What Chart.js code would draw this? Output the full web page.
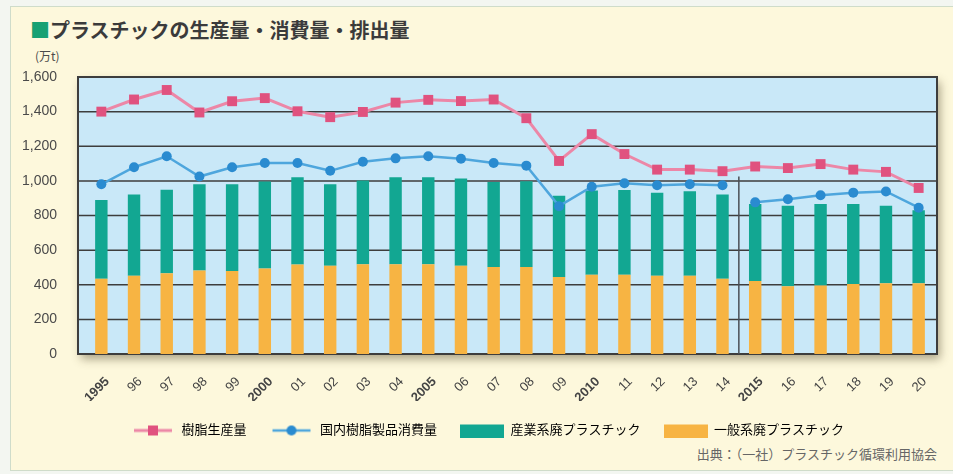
<!DOCTYPE html>
<html>
<head>
<meta charset="utf-8">
<script src="https://cdn.jsdelivr.net/npm/chart.js@4.4.1/dist/chart.umd.min.js"></script>
<style>
  html, body { margin: 0; padding: 0; background: #f3f6f1; }
  #frame { position: absolute; left: 10px; top: 6px; width: 960px; height: 463px; background: #fdf8dc; border: 1.5px solid #cfdcca; }
  #title { position: absolute; left: 30px; top: 15px; font: bold 20px "Noto Sans CJK JP", sans-serif; color: #3b3b3b; white-space: nowrap; }
  #title span { color: #17a173; }
  #unit { position: absolute; left: 35px; top: 47px; font: 12px "Noto Sans CJK JP", sans-serif; color: #4a4a4a; }
  #source { position: absolute; right: 16px; top: 444px; font: 13px "Noto Sans CJK JP", sans-serif; color: #666; white-space: nowrap; }
  #wrap { position: absolute; left: 0; top: 0; width: 953px; height: 474px; }
</style>
</head>
<body>
<div id="frame"></div>
<div id="title"><span>■</span>プラスチックの生産量・消費量・排出量</div>
<div id="unit">(万t)</div>
<div id="source">出典：（一社）プラスチック循環利用協会</div>
<div id="wrap"><canvas id="chart" width="953" height="474"></canvas></div>
<script>
// data (万t)
const years = ['1995', '96', '97', '98', '99', '2000', '01', '02', '03', '04', '2005', '06', '07', '08', '09',
  '2010', '11', '12', '13', '14', '2015', '16', '17', '18', '19', '20'];
const boldYears = ['1995', '2000', '2005', '2010', '2015'];
const resinProduction = [1400, 1470, 1525, 1395, 1460, 1478, 1402, 1368, 1398, 1452, 1468, 1461, 1470, 1362, 1115,
  1270, 1155, 1065, 1065, 1056, 1083, 1074, 1097, 1065, 1052, 959];
const domesticConsumption = [980, 1079, 1142, 1025, 1079, 1103, 1103, 1058, 1110, 1130, 1142, 1128, 1103, 1088, 854,
  966, 986, 975, 980, 975, 876, 894, 917, 932, 939, 845];
const industrialWaste = [456, 470, 482, 497, 501, 502, 504, 470, 483, 502, 502, 503, 490, 495, 469,
  486, 490, 480, 488, 488, 445, 466, 472, 463, 448, 422];
const generalWaste = [434, 452, 467, 483, 479, 494, 517, 510, 519, 519, 519, 510, 503, 503, 445,
  458, 458, 452, 452, 434, 422, 391, 395, 404, 409, 409];
const labels = ['樹脂生産量', '国内樹脂製品消費量', '産業系廃プラスチック', '一般系廃プラスチック'];
const yTicks = [0, 200, 400, 600, 800, 1000, 1200, 1400, 1600];
const breakIndex = 20; // consumption series restarts at 2015

const pinkLine = '#ec87a7', pinkPoint = '#e0527f';
const blueLine = '#4ea6dd', bluePoint = '#2a8bd0';
const teal = '#12a792', orange = '#f7b443';
const gridColor = '#3d3d3d';

function icon(draw) {
    const c = document.createElement('canvas');
    c.width = 44; c.height = 14;
    draw(c.getContext('2d'));
    return c;
}
const legendIcons = [
    icon(g => {
        g.strokeStyle = pinkLine; g.lineWidth = 3;
        g.beginPath(); g.moveTo(3, 7); g.lineTo(41, 7); g.stroke();
        g.fillStyle = pinkPoint; g.fillRect(17, 2, 10, 10);
    }),
    icon(g => {
        g.strokeStyle = blueLine; g.lineWidth = 2.5;
        g.beginPath(); g.moveTo(3, 7); g.lineTo(41, 7); g.stroke();
        g.fillStyle = bluePoint; g.beginPath(); g.arc(22, 7, 5, 0, Math.PI * 2); g.fill();
    }),
    icon(g => { g.fillStyle = teal; g.fillRect(0, 1, 44, 13); }),
    icon(g => { g.fillStyle = orange; g.fillRect(0, 1, 44, 13); })
];

const plotBack = {
    id: 'plotBack',
    afterLayout(chart) {
        // the original legend sits a little right of centre
        chart.legend.left += 9;
        chart.legend.right += 9;
    },
    beforeDraw(chart) {
        const { ctx, chartArea: a, scales: { x, y } } = chart;
        const left = a.left - 7, right = a.right + 2;
        ctx.save();
        ctx.shadowColor = 'rgba(70,60,30,0.45)';
        ctx.shadowBlur = 9;
        ctx.shadowOffsetX = 3;
        ctx.shadowOffsetY = 5;
        ctx.fillStyle = '#c9e8f8';
        ctx.fillRect(left, a.top, right - left, a.bottom - a.top);
        ctx.restore();

        ctx.save();
        ctx.strokeStyle = gridColor;
        ctx.lineWidth = 1.5;
        yTicks.forEach(v => {
            const py = y.getPixelForValue(v);
            ctx.beginPath(); ctx.moveTo(left, py); ctx.lineTo(right, py); ctx.stroke();
        });
        ctx.lineWidth = 2;
        ctx.strokeRect(left, a.top, right - left, a.bottom - a.top);
        // 2014 / 2015 boundary
        const sx = x.getPixelForValue(breakIndex - 0.5);
        ctx.strokeStyle = '#4a4f55';
        ctx.lineWidth = 1.5;
        ctx.beginPath(); ctx.moveTo(sx, y.getPixelForValue(1025)); ctx.lineTo(sx, a.bottom); ctx.stroke();
        ctx.restore();
    }
};

Chart.defaults.font.family = '"Liberation Sans", "Noto Sans CJK JP", sans-serif';

new Chart(document.getElementById('chart'), {
    type: 'bar',
    data: {
        labels: years,
        datasets: [
            {
                type: 'line', label: labels[0], data: resinProduction, order: 0, stack: 'resin',
                borderColor: pinkLine, borderWidth: 3, tension: 0,
                pointStyle: 'rect', pointRadius: 7, pointBackgroundColor: pinkPoint, pointBorderWidth: 0
            },
            {
                type: 'line', label: labels[1], data: domesticConsumption, order: 1, stack: 'consumption',
                borderColor: blueLine, borderWidth: 2.5, tension: 0,
                segment: { borderColor: c => c.p0DataIndex === breakIndex - 1 ? 'rgba(0,0,0,0)' : blueLine },
                pointStyle: 'circle', pointRadius: 5, pointBackgroundColor: bluePoint, pointBorderWidth: 0
            },
            {
                label: labels[2], data: industrialWaste, order: 3, stack: 'waste', backgroundColor: teal,
                categoryPercentage: 1, barPercentage: 0.38
            },
            {
                label: labels[3], data: generalWaste, order: 2, stack: 'waste', backgroundColor: orange,
                categoryPercentage: 1, barPercentage: 0.38
            }
        ]
    },
    options: {
        responsive: false,
        animation: false,
        layout: { padding: { left: 22, right: 18, top: 77, bottom: 27 } },
        scales: {
            x: {
                stacked: true,
                grid: { display: false },
                border: { display: false },
                ticks: {
                    autoSkip: false, maxRotation: 45, minRotation: 45, padding: 12, labelOffset: 6, color: '#444',
                    font: c => ({ size: 13, weight: boldYears.includes(years[c.index]) ? 'bold' : 'normal' })
                },
                afterFit: s => { s.height = 47; }
            },
            y: {
                stacked: true,
                min: 0, max: 1600,
                grid: { display: false },
                border: { display: false },
                ticks: {
                    stepSize: 200, padding: 20, color: '#4a4a4a', font: { size: 14 },
                    callback: v => v.toLocaleString('en-US')
                },
                afterFit: s => { s.width = 63; }
            }
        },
        plugins: {
            tooltip: { enabled: false },
            legend: {
                position: 'bottom',
                labels: {
                    usePointStyle: true, pointStyleWidth: 44, boxHeight: 13, padding: 23,
                    color: '#555', font: { size: 13 },
                    generateLabels: () => labels.map((text, i) => ({
                        text, pointStyle: legendIcons[i], datasetIndex: i,
                        hidden: false, lineWidth: 0, fillStyle: 'transparent', strokeStyle: 'transparent'
                    }))
                }
            }
        }
    },
    plugins: [plotBack]
});
</script>
</body>
</html>
